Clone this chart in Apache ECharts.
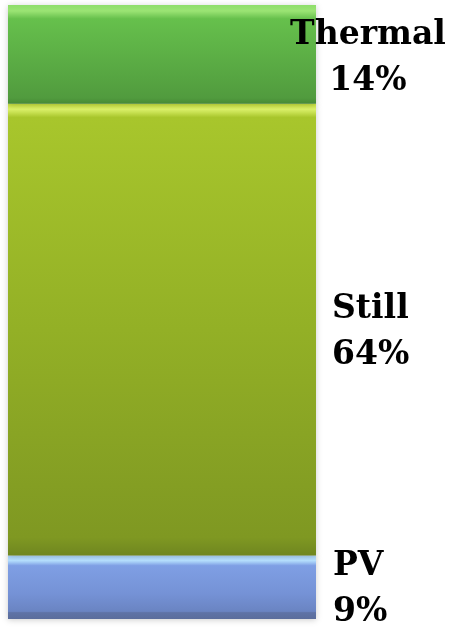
<!DOCTYPE html>
<html>
<head>
<meta charset="utf-8">
<script src="https://cdn.jsdelivr.net/npm/echarts@6/dist/echarts.min.js"></script>
<style>
html,body{margin:0;padding:0;background:#fff;}
#chart{width:457px;height:627px;}
</style>
</head>
<body>
<div id="chart"></div>
<script>
// Data
const categories = ['Share'];
const seriesNames = ['PV', 'Still', 'Thermal'];
const seriesValues = [9, 64, 14];
const labelTexts = ['9%', '64%', '14%'];

const total = seriesValues.reduce((a, b) => a + b, 0);

function grad(stops) {
  return new echarts.graphic.LinearGradient(0, 0, 0, 1,
    stops.map(s => ({ offset: s[0], color: s[1] })));
}

const fills = [
  grad([[0, '#a9d2f6'], [0.08, '#b6e0ff'], [0.16, '#7f9fe4'], [0.6, '#7592d6'], [0.88, '#6a84c2'], [0.9, '#5f73a6'], [1, '#5b6d9c']]),
  grad([[0, '#c8e23c'], [0.012, '#dcf26a'], [0.03, '#a8c62c'], [0.5, '#93b026'], [0.96, '#7f9822'], [1, '#6f8620']]),
  grad([[0, '#8ede6a'], [0.06, '#9be474'], [0.14, '#66c04c'], [0.6, '#5aab44'], [0.94, '#519b3e'], [1, '#468a35']])
];

const labelCfg = [
  { align: 'left', distance: 17, offset: [0, 2] },
  { align: 'left', distance: 16, offset: [0, 3] },
  { align: 'center', distance: 52, offset: [0, 4] }
];

const chart = echarts.init(document.getElementById('chart'));
chart.setOption({
  animation: false,
  grid: { left: 8, right: 141, top: 5, bottom: 8 },
  xAxis: { type: 'category', data: categories, show: false },
  yAxis: { type: 'value', min: 0, max: total, show: false },
  series: seriesNames.map((name, i) => ({
    name: name,
    type: 'bar',
    stack: 'total',
    barWidth: '100%',
    data: [seriesValues[i]],
    itemStyle: {
      color: fills[i],
      shadowColor: 'rgba(0,0,0,0.2)',
      shadowBlur: 6,
      shadowOffsetX: 0,
      shadowOffsetY: 1
    },
    label: {
      show: true,
      position: 'right',
      distance: labelCfg[i].distance,
      align: labelCfg[i].align,
      offset: labelCfg[i].offset,
      formatter: name + '\n' + labelTexts[i],
      fontFamily: 'DejaVu Serif',
      fontWeight: 'bold',
      fontSize: 33,
      lineHeight: 46,
      color: '#000'
    }
  }))
});
</script>
</body>
</html>
